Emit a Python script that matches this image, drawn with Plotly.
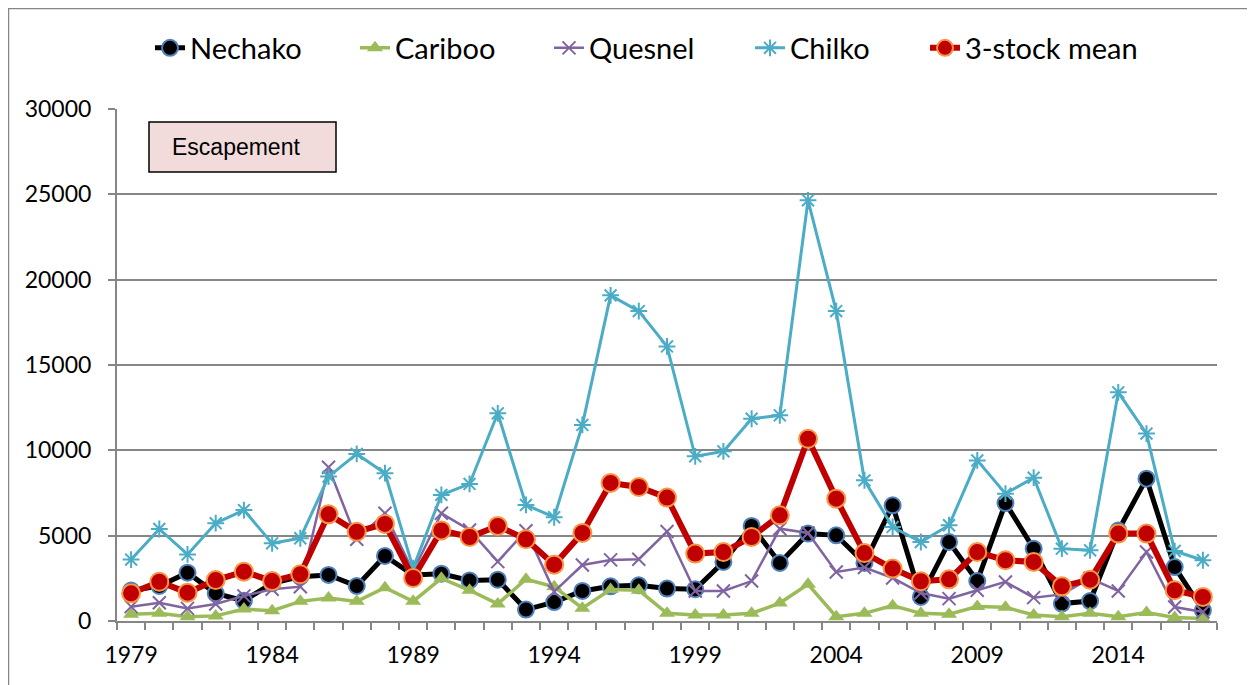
import plotly.graph_objects as go

years = list(range(1979, 2018))

nechako = [1780, 2050, 2830, 1620, 1190, 2210, 2600, 2700, 2050, 3810,
           2700, 2770, 2380, 2420, 670, 1110, 1760, 2030, 2090, 1900,
           1860, 3460, 5570, 3400, 5120, 5020, 3400, 6780, 1410, 4630,
           2340, 6910, 4240, 1020, 1170, 5300, 8340, 3160, 630]

cariboo = [400, 450, 250, 300, 700, 600, 1150, 1350, 1150, 1950,
           1150, 2500, 1800, 1000, 2450, 2000, 750, 1850, 1800, 450,
           350, 350, 450, 1050, 2150, 250, 450, 900, 450, 400,
           850, 800, 350, 250, 450, 250, 500, 200, 150]

quesnel = [840, 1070, 740, 1000, 1470, 1860, 2010, 9010, 4790, 6310,
           2900, 6310, 5330, 3480, 5290, 1720, 3280, 3580, 3620, 5240,
           1760, 1760, 2340, 5410, 5160, 2870, 3130, 2520, 1640, 1310,
           1800, 2290, 1370, 1560, 2500, 1760, 4040, 820, 530]

chilko = [3600, 5390, 3900, 5730, 6500, 4550, 4850, 8460, 9790, 8660,
          3100, 7390, 8030, 12170, 6800, 6080, 11490, 19080, 18160, 16090,
          9650, 9940, 11850, 12050, 24650, 18160, 8240, 5510, 4630, 5610,
          9410, 7460, 8400, 4240, 4140, 13400, 10980, 4100, 3560]

mean3 = [1620, 2300, 1660, 2400, 2890, 2340, 2740, 6250, 5230, 5690,
         2520, 5310, 4920, 5570, 4790, 3300, 5160, 8090, 7850, 7230,
         3950, 4040, 4920, 6190, 10680, 7170, 3980, 3070, 2330, 2440,
         4040, 3560, 3460, 2030, 2420, 5120, 5120, 1800, 1410]

x_ticks = [1979, 1984, 1989, 1994, 1999, 2004, 2009, 2014]
y_ticks = [0, 5000, 10000, 15000, 20000, 25000, 30000]

# page body has an 8px margin: figure drawn at (8, 8) on screen
OFF = 8
W, H = 1255 - OFF, 685 - OFF
SL, SR, ST, SB = 117, 1217, 109, 621          # plot area in screen px
L, R, T, B = SL - OFF, SR - OFF, ST - OFF, SB - OFF


def px(sx):
    return (sx - SL) / (SR - SL)


def py(sy):
    return (SB - sy) / (SB - ST)


legend_text_x = [191, 396, 590, 791, 966]
legend_names = ["legend", "legend2", "legend3", "legend4", "legend5"]

fig = go.Figure()
fig.add_trace(go.Scatter(
    x=years, y=nechako, name="Nechako", mode="lines+markers",
    legend="legend",
    line=dict(color="black", width=5),
    marker=dict(symbol="circle", size=16, color="black",
                line=dict(color="#4F81BD", width=2))))
fig.add_trace(go.Scatter(
    x=years, y=cariboo, name="Cariboo", mode="lines+markers",
    legend="legend2",
    line=dict(color="#9BBB59", width=3.5),
    marker=dict(symbol="triangle-up", size=14, color="#9BBB59")))
fig.add_trace(go.Scatter(
    x=years, y=quesnel, name="Quesnel", mode="lines+markers",
    legend="legend3",
    line=dict(color="#8064A2", width=2.5),
    marker=dict(symbol="x-thin", size=13, color="#8064A2",
                line=dict(color="#8064A2", width=2))))
fig.add_trace(go.Scatter(
    x=years, y=chilko, name="Chilko", mode="lines+markers",
    legend="legend4",
    line=dict(color="#4BACC6", width=3),
    marker=dict(symbol="asterisk", size=14, color="#4BACC6",
                line=dict(color="#4BACC6", width=2))))
fig.add_trace(go.Scatter(
    x=years, y=mean3, name="3-stock mean", mode="lines+markers",
    legend="legend5",
    line=dict(color="#C00000", width=6),
    marker=dict(symbol="circle", size=18, color="#C00000",
                line=dict(color="#F79646", width=2))))

legend_layout = {}
for name, tx in zip(legend_names, legend_text_x):
    legend_layout[name] = dict(
        orientation="h", x=px(tx - 41), xanchor="left",
        y=py(48), yanchor="middle",
        font=dict(family="Lato", size=29, color="black"),
        bgcolor="rgba(0,0,0,0)", borderwidth=0)

fig.update_layout(
    width=W, height=H,
    margin=dict(l=L, r=W - R, t=T, b=H - B, autoexpand=False),
    paper_bgcolor="white", plot_bgcolor="white",
    font=dict(family="Lato", color="black", size=23),
    showlegend=True,
    xaxis=dict(range=[1978.5, 2017.5], tickvals=x_ticks,
               ticktext=[str(v) for v in x_ticks],
               ticks="", showgrid=False, zeroline=False, automargin=False,
               showline=True, linecolor="#868686", linewidth=2,
               ticklabelstandoff=12,
               tickfont=dict(family="Lato", size=23, color="black"),
               minor=dict(ticks="outside", tick0=1978.5, dtick=1,
                          ticklen=7, tickcolor="#868686", tickwidth=1.5,
                          showgrid=False)),
    yaxis=dict(range=[0, 30000], tickvals=y_ticks,
               ticktext=[str(v) for v in y_ticks],
               ticks="outside", ticklen=7, tickcolor="#868686", tickwidth=1.5,
               showgrid=True, gridcolor="#868686", gridwidth=2,
               zeroline=False, showline=True, linecolor="#868686",
               linewidth=2, ticklabelstandoff=12, automargin=False,
               tickfont=dict(family="Lato", size=23, color="black")),
    shapes=[
        dict(type="rect", xref="paper", yref="paper",
             x0=px(8.5), x1=px(1270), y0=py(700), y1=py(8.5),
             line=dict(color="#868686", width=1.5), fillcolor="rgba(0,0,0,0)",
             layer="below"),
        dict(type="rect", xref="paper", yref="paper",
             x0=px(149), x1=px(336), y0=py(172), y1=py(122),
             line=dict(color="black", width=1.5), fillcolor="#F2DCDB"),
    ],
    annotations=[
        dict(text="Escapement", xref="paper", yref="paper",
             x=px(170), y=py(147), xanchor="left", yanchor="middle",
             showarrow=False,
             font=dict(family="Liberation Sans", size=23, color="black")),
    ],
    **legend_layout,
)

fig.write_html("out.html")
